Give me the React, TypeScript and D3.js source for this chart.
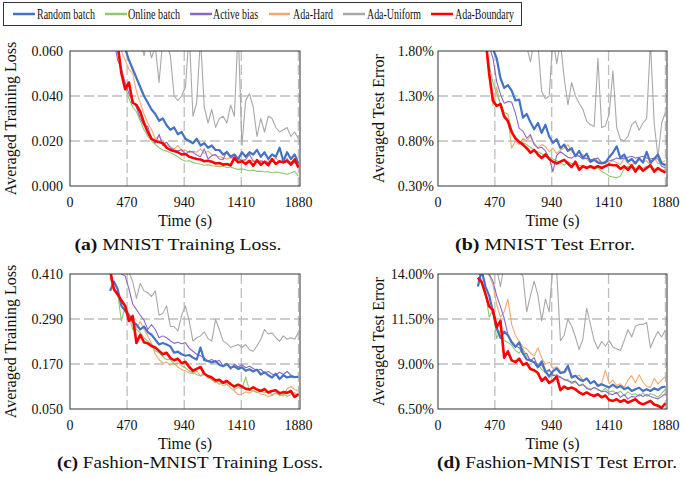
import React from "react";
import * as d3 from "d3";

// ---------- data ----------
const TIMES = d3.range(330, 1881, 31); // sampling times (s), 51 points
const X_TICKS = [0, 470, 940, 1410, 1880];
const SERIES_NAMES = ["Random batch", "Online batch", "Active bias", "Ada-Hard", "Ada-Uniform", "Ada-Boundary"];

// (a) MNIST training loss
const A_RANDOM = [0.075,0.072,0.068,0.063,0.061,0.056,0.052,0.048,0.044,0.040,0.037,0.034,0.032,0.029,0.030,0.027,0.025,0.026,0.023,0.024,0.021,0.020,0.019,0.021,0.018,0.019,0.017,0.018,0.016,0.016,0.014,0.015,0.013,0.014,0.012,0.015,0.013,0.015,0.014,0.016,0.013,0.015,0.012,0.014,0.013,0.017,0.011,0.015,0.012,0.014,0.010];
const A_ONLINE = [0.08,0.07,0.06,0.052,0.044,0.039,0.035,0.033,0.029,0.025,0.022,0.020,0.0185,0.017,0.016,0.0155,0.0148,0.014,0.013,0.0118,0.011,0.0112,0.0105,0.010,0.0098,0.0092,0.0095,0.009,0.0088,0.0086,0.0088,0.0082,0.0085,0.0078,0.0074,0.0076,0.0072,0.0068,0.0070,0.0065,0.0066,0.0062,0.0064,0.0058,0.0062,0.0060,0.0056,0.0052,0.0058,0.0065,0.0045];
const A_ACTIVE = [0.075,0.065,0.056,0.052,0.046,0.041,0.038,0.035,0.030,0.027,0.0265,0.021,0.019,0.023,0.018,0.0195,0.017,0.016,0.0155,0.0162,0.014,0.0155,0.015,0.0138,0.013,0.0165,0.012,0.0135,0.014,0.012,0.0118,0.0155,0.013,0.0128,0.0124,0.0112,0.0118,0.014,0.011,0.0105,0.0112,0.0108,0.0105,0.0112,0.010,0.0108,0.0102,0.0122,0.0098,0.0105,0.0095];
const A_HARD = [0.08,0.072,0.065,0.060,0.056,0.052,0.050,0.042,0.037,0.032,0.028,0.025,0.021,0.022,0.020,0.018,0.0175,0.0165,0.018,0.0155,0.016,0.0148,0.0155,0.015,0.0165,0.0145,0.0155,0.014,0.0135,0.013,0.0125,0.012,0.0125,0.0115,0.011,0.0118,0.0112,0.0108,0.0115,0.0105,0.011,0.0108,0.0112,0.011,0.0125,0.0105,0.0112,0.0108,0.011,0.0102,0.0105];
const A_UNIFORM = [0.09,0.085,0.08,0.078,0.075,0.072,0.07,0.068,0.066,0.058,0.064,0.057,0.062,0.046,0.065,0.063,0.058,0.040,0.038,0.040,0.044,0.068,0.031,0.037,0.066,0.035,0.028,0.034,0.026,0.030,0.031,0.028,0.036,0.031,0.070,0.018,0.038,0.041,0.035,0.022,0.030,0.024,0.031,0.030,0.026,0.024,0.025,0.026,0.022,0.024,0.021];
const A_BOUNDARY = [0.085,0.072,0.063,0.050,0.043,0.046,0.037,0.036,0.033,0.028,0.024,0.021,0.020,0.0195,0.019,0.017,0.016,0.0155,0.015,0.014,0.0142,0.013,0.0125,0.012,0.0118,0.011,0.0112,0.0108,0.010,0.0102,0.0095,0.0098,0.0092,0.0125,0.0105,0.011,0.0098,0.0112,0.0090,0.0115,0.0095,0.0108,0.0092,0.012,0.0098,0.011,0.0105,0.0112,0.0095,0.0118,0.0082];

// (b) MNIST test error (%)
const B_RANDOM = [2.6,2.3,2.05,1.90,1.82,1.72,1.50,1.39,1.42,1.36,1.25,1.26,1.06,1.10,1.01,0.93,1.00,0.89,0.98,0.85,0.78,0.82,0.72,0.76,0.69,0.72,0.63,0.69,0.61,0.66,0.57,0.59,0.56,0.55,0.56,0.62,0.67,0.74,0.61,0.65,0.57,0.60,0.55,0.61,0.56,0.68,0.56,0.60,0.65,0.55,0.53];
const B_ONLINE = [2.7,2.2,1.9,1.65,1.45,1.33,1.22,1.12,1.10,0.92,0.82,0.80,0.78,0.76,0.73,0.70,0.68,0.66,0.63,0.62,0.60,0.58,0.56,0.53,0.57,0.55,0.54,0.53,0.52,0.51,0.50,0.49,0.50,0.46,0.44,0.41,0.40,0.39,0.41,0.49,0.52,0.51,0.50,0.48,0.50,0.52,0.51,0.49,0.48,0.47,0.49];
const B_ACTIVE = [2.7,2.3,2.0,1.85,1.72,1.46,1.32,1.22,1.24,1.23,1.11,0.94,0.91,0.83,0.87,0.76,0.72,0.73,0.69,0.61,0.46,0.64,0.68,0.65,0.62,0.61,0.64,0.63,0.60,0.61,0.59,0.60,0.61,0.56,0.57,0.58,0.59,0.61,0.60,0.61,0.62,0.63,0.61,0.62,0.63,0.61,0.60,0.61,0.60,0.52,0.50];
const B_HARD = [2.8,2.4,2.0,1.50,1.19,1.40,1.19,1.09,1.04,0.72,0.80,0.76,0.83,0.80,0.85,0.78,0.72,0.76,0.74,0.68,0.72,0.66,0.70,0.72,0.76,0.68,0.65,0.63,0.65,0.60,0.56,0.61,0.58,0.56,0.57,0.56,0.58,0.56,0.54,0.61,0.55,0.53,0.57,0.59,0.57,0.58,0.53,0.61,0.55,0.56,0.58];
const B_UNIFORM = [3.0,2.9,2.8,2.7,2.6,2.5,2.4,2.3,2.2,2.1,2.0,1.95,1.90,1.85,1.68,1.92,1.88,1.35,1.27,1.30,1.95,1.66,1.90,1.50,1.20,1.45,1.30,1.22,1.15,1.02,0.98,0.96,1.72,0.95,0.97,1.10,1.58,0.95,0.82,0.80,0.85,0.98,1.02,0.92,1.00,1.05,1.90,1.00,0.62,1.00,1.12];
const B_BOUNDARY = [2.8,2.3,1.95,1.55,1.25,1.19,1.21,1.07,1.02,0.90,0.83,0.79,0.76,0.72,0.67,0.70,0.65,0.61,0.65,0.60,0.57,0.55,0.57,0.59,0.55,0.51,0.57,0.48,0.52,0.50,0.52,0.50,0.52,0.50,0.52,0.54,0.53,0.53,0.49,0.52,0.48,0.53,0.46,0.52,0.47,0.50,0.53,0.46,0.50,0.47,0.45];

// (c) Fashion-MNIST training loss
const C_RANDOM = [0.365,0.39,0.37,0.325,0.312,0.30,0.283,0.275,0.262,0.270,0.255,0.248,0.235,0.222,0.226,0.222,0.217,0.200,0.203,0.196,0.192,0.194,0.187,0.182,0.214,0.180,0.178,0.174,0.178,0.168,0.164,0.170,0.160,0.164,0.157,0.161,0.152,0.156,0.150,0.155,0.142,0.148,0.140,0.134,0.144,0.130,0.140,0.134,0.137,0.135,0.136];
const C_ONLINE = [0.40,0.37,0.36,0.285,0.322,0.30,0.262,0.262,0.254,0.240,0.231,0.222,0.205,0.200,0.190,0.182,0.182,0.169,0.173,0.165,0.160,0.151,0.147,0.142,0.138,0.147,0.134,0.129,0.125,0.116,0.120,0.116,0.120,0.102,0.107,0.104,0.135,0.100,0.098,0.094,0.098,0.094,0.097,0.087,0.092,0.086,0.090,0.084,0.088,0.094,0.082];
const C_ACTIVE = [0.46,0.44,0.42,0.41,0.405,0.37,0.33,0.315,0.30,0.287,0.262,0.275,0.262,0.240,0.245,0.240,0.232,0.225,0.228,0.224,0.227,0.212,0.204,0.196,0.192,0.186,0.178,0.182,0.175,0.180,0.165,0.170,0.156,0.170,0.162,0.168,0.160,0.164,0.158,0.152,0.156,0.146,0.150,0.143,0.140,0.148,0.142,0.150,0.140,0.136,0.134];
const C_HARD = [0.40,0.37,0.355,0.335,0.32,0.305,0.285,0.265,0.283,0.262,0.245,0.225,0.196,0.182,0.172,0.175,0.167,0.172,0.162,0.155,0.151,0.146,0.144,0.152,0.138,0.142,0.133,0.128,0.120,0.124,0.112,0.116,0.106,0.098,0.088,0.090,0.096,0.092,0.100,0.095,0.090,0.088,0.083,0.086,0.094,0.089,0.085,0.104,0.110,0.102,0.098];
const C_UNIFORM = [0.50,0.48,0.46,0.44,0.42,0.415,0.39,0.345,0.385,0.365,0.36,0.35,0.365,0.30,0.305,0.325,0.27,0.27,0.258,0.30,0.325,0.285,0.231,0.24,0.245,0.256,0.238,0.231,0.289,0.262,0.231,0.225,0.214,0.218,0.222,0.214,0.222,0.208,0.204,0.218,0.236,0.262,0.250,0.253,0.240,0.231,0.245,0.236,0.240,0.236,0.254];
const C_BOUNDARY = [0.42,0.37,0.355,0.34,0.325,0.285,0.298,0.226,0.248,0.228,0.225,0.218,0.214,0.205,0.196,0.200,0.186,0.180,0.184,0.172,0.176,0.162,0.152,0.157,0.162,0.144,0.138,0.134,0.126,0.128,0.120,0.125,0.116,0.110,0.115,0.110,0.104,0.102,0.108,0.102,0.098,0.103,0.094,0.098,0.100,0.092,0.095,0.093,0.098,0.082,0.090];

// (d) Fashion-MNIST test error (%)
const D_RANDOM = [13.3,14.2,13.3,12.8,11.9,11.0,10.45,10.8,10.6,10.2,9.95,10.2,9.6,9.25,9.2,9.1,8.82,9.15,8.6,8.3,8.6,8.75,8.5,8.55,8.9,8.25,8.35,8.15,8.05,8.2,7.92,8.05,7.78,7.87,7.78,7.7,7.85,7.68,7.78,7.6,7.7,7.5,7.6,7.68,7.5,7.6,7.5,7.65,7.55,7.7,7.75];
const D_ONLINE = [14.2,13.6,13.0,11.6,12.0,10.4,10.9,10.3,10.2,10.05,9.75,9.6,9.85,9.45,9.2,9.05,8.98,8.7,8.5,8.65,8.45,8.24,8.3,8.1,8.15,7.9,8.0,7.8,7.9,7.7,7.6,7.7,7.55,7.5,7.65,7.45,7.5,7.35,7.5,7.25,7.45,7.3,7.35,7.2,7.4,7.2,7.35,7.28,7.15,7.35,7.6];
const D_ACTIVE = [14.8,14.6,14.3,14.0,13.6,12.8,12.2,11.55,10.6,10.28,10.0,9.9,9.55,9.6,9.17,9.35,8.85,8.95,8.55,8.7,8.35,8.4,8.25,8.15,8.06,7.98,8.05,7.8,7.85,7.65,7.55,7.7,7.6,7.45,7.5,7.35,7.3,7.42,7.15,7.3,7.05,7.2,7.15,7.3,7.2,7.3,7.2,7.12,7.05,7.2,7.35];
const D_HARD = [15,14.6,14.2,13.9,13.4,12.3,11.6,11.9,12.6,11.2,10.6,10.25,9.95,9.85,9.6,9.45,9.9,9.35,8.98,9.1,8.75,8.85,8.6,8.5,8.7,8.4,8.3,8.38,8.1,8.2,7.95,8.05,7.85,7.95,8.65,7.9,8.1,7.8,7.9,7.7,8.1,8.35,7.95,8.4,8.0,7.75,7.7,8.2,7.9,8.1,8.3];
const D_UNIFORM = [16.5,16.0,15.5,15.0,14.6,14.3,13.3,14.5,14.4,14.2,14.8,14.1,13.9,11.9,12.8,13.6,12.8,11.4,12.6,11.9,14.5,14.2,10.3,10.6,11.5,11.1,10.5,9.8,10.4,12.1,11.2,10.3,9.85,10.25,10.0,10.3,9.95,9.85,9.75,10.3,10.9,10.5,11.1,11.2,11.2,11.3,9.9,10.4,10.8,10.5,10.9];
const D_BOUNDARY = [13.8,13.55,12.9,12.2,12.0,11.05,11.4,9.35,9.7,9.2,9.1,9.3,8.95,9.05,8.72,8.65,8.5,8.06,8.25,7.95,8.08,8.3,7.55,7.75,7.62,7.69,7.6,7.42,7.31,7.42,7.3,7.22,7.32,7.15,7.25,7.0,6.95,7.04,6.9,7.0,6.85,6.95,7.04,6.85,6.76,6.85,6.95,6.75,6.68,6.57,6.82];

const A_TICKS = [0, 0.02, 0.04, 0.06];
const B_TICKS = [0.3, 0.8, 1.3, 1.8];
const C_TICKS = [0.05, 0.17, 0.29, 0.41];
const D_TICKS = [6.5, 9, 11.5, 14];

// ---------- styles ----------
const COLORS = ["#4472c4", "#8fc870", "#8b68c8", "#f4a871", "#a8a8a8", "#ff0000"];
const WIDTHS = [2.2, 1.1, 1.1, 1.1, 1.1, 2.6];
const DRAW_ORDER = [4, 3, 1, 2, 0, 5];
const FONT = "'Liberation Serif', 'Times New Roman', serif";

const fmt3 = d3.format(".3f");
const fmtPct = (v: number) => v.toFixed(2) + "%";

type PanelProps = {
  id: string;
  left: number; right: number; top: number; bottom: number;
  yDomain: [number, number];
  yTicks: number[];
  fmt: (v: number) => string;
  series: number[][];
  yTitle: string;
  titleX: number;
  labelGap: number;
  capLetter: string;
  capText: string;
  capX: number;
  capY: number;
  capW: number;
};

function Panel(p: PanelProps) {
  const x = d3.scaleLinear().domain([0, 1893]).range([p.left, p.right]);
  const y = d3.scaleLinear().domain(p.yDomain).range([p.bottom, p.top]);
  const line = d3.line<number>().x((_, i) => x(TIMES[i])).y((d) => y(d));
  const clipId = "clip-" + p.id;
  const grid = "#bdbdbd";
  return (
    <g>
      <defs>
        <clipPath id={clipId}>
          <rect x={p.left} y={p.top} width={p.right - p.left} height={p.bottom - p.top} />
        </clipPath>
      </defs>
      {p.yTicks.slice(1, -1).map((t) => (
        <line key={"h" + t} x1={p.left} x2={p.right} y1={y(t)} y2={y(t)} stroke={grid} strokeWidth={1.3} strokeDasharray="10,4" />
      ))}
      {X_TICKS.slice(1).map((t) => (
        <line key={"v" + t} x1={x(t)} x2={x(t)} y1={p.top} y2={p.bottom} stroke={grid} strokeWidth={1.3} strokeDasharray="10,4" />
      ))}
      <g clipPath={`url(#${clipId})`}>
        {DRAW_ORDER.map((k) => (
          <path key={k} d={line(p.series[k]) || ""} fill="none" stroke={COLORS[k]} strokeWidth={WIDTHS[k]} strokeLinejoin="round" />
        ))}
      </g>
      <rect x={p.left} y={p.top} width={p.right - p.left} height={p.bottom - p.top} fill="none" stroke="#333" strokeWidth={1} />
      {p.yTicks.map((t) => (
        <text key={"yl" + t} x={p.left - p.labelGap} y={y(t)} dy="0.35em" textAnchor="end" fontSize={14} fontFamily={FONT} fill="#111">
          {p.fmt(t)}
        </text>
      ))}
      {X_TICKS.map((t) => (
        <text key={"xl" + t} x={x(t)} y={p.bottom + 21} textAnchor="middle" fontSize={14} fontFamily={FONT} fill="#111">
          {t}
        </text>
      ))}
      <text x={(p.left + p.right) / 2} y={p.bottom + 40} textAnchor="middle" fontSize={16} fontFamily={FONT} fill="#111">
        Time (s)
      </text>
      <text
        transform={`translate(${p.titleX},${(p.top + p.bottom) / 2}) rotate(-90)`}
        dy="0.35em"
        textAnchor="middle"
        fontSize={16}
        fontFamily={FONT}
        fill="#111"
      >
        {p.yTitle}
      </text>
      <text x={p.capX} y={p.capY} textAnchor="middle" fontSize={16.5} fontFamily={FONT} fill="#111" textLength={p.capW} lengthAdjust="spacingAndGlyphs">
        <tspan fontWeight="bold">{p.capLetter}</tspan>
        <tspan fontWeight="normal"> {p.capText}</tspan>
      </text>
    </g>
  );
}

const LEGEND_POS = [
  { l1: 13, l2: 35, tx: 37, tw: 58 },
  { l1: 105, l2: 127, tx: 128, tw: 52 },
  { l1: 190, l2: 212, tx: 213, tw: 45 },
  { l1: 269, l2: 290, tx: 293, tw: 40 },
  { l1: 343, l2: 365, tx: 367, tw: 54 },
  { l1: 431, l2: 453, tx: 455, tw: 59 },
];

export default function App() {
  return (
    <svg width={685} height={478} style={{ position: "absolute", left: 0, top: 0, background: "#fff" }}>
      <rect x={0} y={0} width={685} height={478} fill="#fff" />
      <rect x={3.5} y={2.5} width={518} height={23} fill="#fff" stroke="#333" strokeWidth={1} />
      {SERIES_NAMES.map((n, k) => (
        <g key={n}>
          <line x1={LEGEND_POS[k].l1} x2={LEGEND_POS[k].l2} y1={14} y2={14} stroke={COLORS[k]} strokeWidth={2.5} />
          <text x={LEGEND_POS[k].tx} y={19} fontSize={14} fontFamily={FONT} fill="#111" textLength={LEGEND_POS[k].tw} lengthAdjust="spacingAndGlyphs">
            {n}
          </text>
        </g>
      ))}
      <Panel id="a" left={70} right={300} top={51} bottom={186} yDomain={[0, 0.06]} yTicks={A_TICKS} fmt={fmt3}
        series={[A_RANDOM, A_ONLINE, A_ACTIVE, A_HARD, A_UNIFORM, A_BOUNDARY]} yTitle="Averaged Training Loss" titleX={10} labelGap={7}
        capLetter="(a)" capText="MNIST Training Loss." capX={178} capY={250} capW={207} />
      <Panel id="b" left={438} right={667} top={51} bottom={186} yDomain={[0.3, 1.8]} yTicks={B_TICKS} fmt={fmtPct}
        series={[B_RANDOM, B_ONLINE, B_ACTIVE, B_HARD, B_UNIFORM, B_BOUNDARY]} yTitle="Averaged Test Error" titleX={378} labelGap={4}
        capLetter="(b)" capText="MNIST Test Error." capX={545} capY={250} capW={180} />
      <Panel id="c" left={70} right={300} top={274} bottom={409} yDomain={[0.05, 0.41]} yTicks={C_TICKS} fmt={fmt3}
        series={[C_RANDOM, C_ONLINE, C_ACTIVE, C_HARD, C_UNIFORM, C_BOUNDARY]} yTitle="Averaged Training Loss" titleX={10} labelGap={7}
        capLetter="(c)" capText="Fashion-MNIST Training Loss." capX={190} capY={468} capW={266} />
      <Panel id="d" left={438} right={667} top={274} bottom={409} yDomain={[6.5, 14]} yTicks={D_TICKS} fmt={fmtPct}
        series={[D_RANDOM, D_ONLINE, D_ACTIVE, D_HARD, D_UNIFORM, D_BOUNDARY]} yTitle="Averaged Test Error" titleX={378} labelGap={4}
        capLetter="(d)" capText="Fashion-MNIST Test Error." capX={557} capY={468} capW={240} />
    </svg>
  );
}
